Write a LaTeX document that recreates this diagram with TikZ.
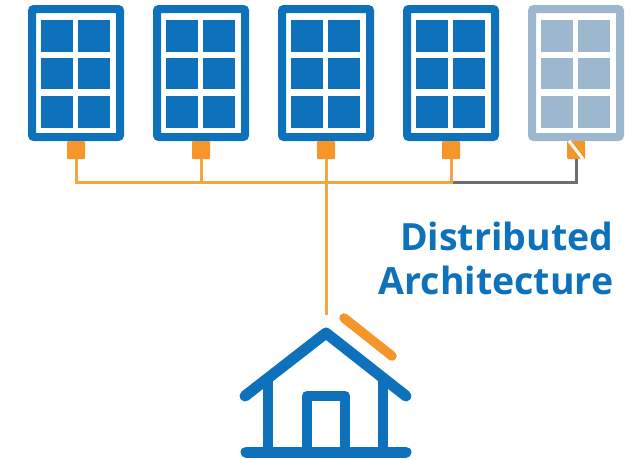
\documentclass[tikz,border=0pt]{standalone}
\usepackage{fontspec}
\setmainfont{Open Sans}
\definecolor{sblue}{HTML}{0D71BB}
\definecolor{sgray}{HTML}{9DB8CE}
\definecolor{sorange}{HTML}{F4962A}
\definecolor{swire}{HTML}{F2A648}
\definecolor{sdark}{HTML}{6C6E70}
\tikzset{
  x=1pt,y=-1pt,
  jbox/.style={fill=sorange,minimum size=18pt,inner sep=0pt,rounded corners=1pt},
  wire/.style={draw=swire,line width=3pt},
  deadwire/.style={draw=sdark,line width=3pt},
  house/.style={draw=sblue,line width=11pt,line cap=round,line join=round},
  housewall/.style={draw=sblue,line width=10pt,line cap=butt,line join=round},
  pv/.style={draw=#1,line width=8pt,rounded corners=2pt},
  cell/.style={fill=#1},
  lbl/.style={font=\bfseries\fontsize{37.5}{44}\selectfont,text=sblue,align=right,anchor=north east,inner sep=0pt}
}
\newcommand{\panelat}[2]{%
  \draw[pv=#2] (#1+4,9) rectangle (#1+92,137);
  \foreach \cx in {13,50}{\foreach \cy in {20,57.5,96}{
    \fill[cell=#2] (#1+\cx,\cy) rectangle ++(32,31.5);}}
}
\begin{document}
\begin{tikzpicture}
\useasboundingbox (0,0) rectangle (634,459);
\panelat{28}{sblue}
\panelat{153}{sblue}
\panelat{278}{sblue}
\panelat{403}{sblue}
\panelat{528}{sgray}
\node[jbox] (j1) at (76,150) {};
\node[jbox] (j2) at (201,150) {};
\node[jbox] (j3) at (326,150) {};
\node[jbox] (j4) at (451,150) {};
\node[jbox] (j5) at (576,150) {};
\draw[white,line width=3pt] ([shift={(-7,-9)}]j5.center) -- ([shift={(7,9)}]j5.center);
\coordinate (b1) at (76,182);
\coordinate (b2) at (201,182);
\coordinate (b3) at (326,182);
\coordinate (b4) at (451,182);
\coordinate (b5) at (576,182);
\coordinate (mainend) at (326,315);
\draw[deadwire] (b4) -- (b5) -- (j5.south);
\draw[wire] (j1.south) -- (b1) -- (b4) -- (j4.south);
\draw[wire] (j2.south) -- (b2);
\draw[wire] (j3.south) -- (mainend);
\draw[house] (245,396) -- (326,333) -- (406,396);
\draw[housewall] (268,380) -- (268,452);
\draw[housewall] (383,380) -- (383,452);
\draw[housewall] (307,452) -- (307,396) -- (345,396) -- (345,452);
\draw[house] (246,452) -- (406,452);
\draw[draw=sorange,line width=9.5pt,line cap=round] (344,318) -- (392,356);
\node[lbl] (title) at (613.5,221.5) {Distributed\\Architecture};
\end{tikzpicture}
\end{document}
